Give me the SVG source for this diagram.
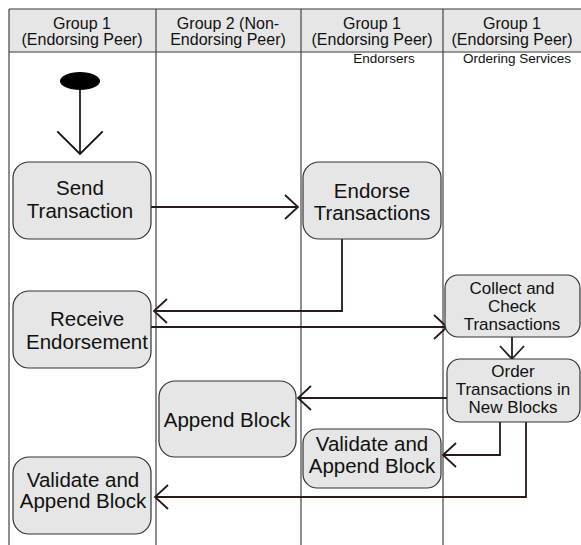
<svg xmlns="http://www.w3.org/2000/svg" width="581" height="545" viewBox="0 0 581 545">
<style>
  text { font-family: "Liberation Sans", Arial, sans-serif; fill: #111; text-anchor: middle; }
  .hdr { font-size: 16px; }
  .sub { font-size: 13.5px; }
  .big { font-size: 20.5px; }
  .med { font-size: 17px; }
  .node { fill: #e6e6e6; stroke: #333; stroke-width: 1.2; }
  .lane { stroke: #444; stroke-width: 1.2; fill: none; }
  .conn { stroke: #2a1a1a; stroke-width: 1.8; fill: none; }
</style>
<defs>
  <marker id="arr" markerUnits="userSpaceOnUse" markerWidth="30" markerHeight="30" viewBox="-16 -15 18 30" refX="0" refY="0" orient="auto">
    <path d="M-13,-12 L0,0 L-13,12" fill="none" stroke="#2a1a1a" stroke-width="1.8"/>
  </marker>
  <marker id="arrBig" markerUnits="userSpaceOnUse" markerWidth="30" markerHeight="50" viewBox="-22 -22 24 44" refX="0" refY="0" orient="auto">
    <path d="M-20,-20 L0,0 L-20,20" fill="none" stroke="#111" stroke-width="1.6"/>
  </marker>
</defs>

<g id="header">
  <rect x="9" y="9" width="572" height="43" fill="#e6e6e6"/>
  <line x1="9" y1="9" x2="581" y2="9" stroke="#777" stroke-width="1.5"/>
  <line x1="9" y1="52" x2="581" y2="52" stroke="#777" stroke-width="1.5"/>
  <text class="hdr" x="82" y="29">Group 1</text>
  <text class="hdr" x="82" y="45">(Endorsing Peer)</text>
  <text class="hdr" x="228" y="29">Group 2 (Non-</text>
  <text class="hdr" x="228" y="45">Endorsing Peer)</text>
  <text class="hdr" x="372" y="29">Group 1</text>
  <text class="hdr" x="372" y="45">(Endorsing Peer)</text>
  <text class="hdr" x="512" y="29">Group 1</text>
  <text class="hdr" x="512" y="45">(Endorsing Peer)</text>
  <text class="sub" x="384" y="63">Endorsers</text>
  <text class="sub" x="517" y="63">Ordering Services</text>
</g>

<g id="lanes">
  <line class="lane" x1="9" y1="9" x2="9" y2="545"/>
  <line class="lane" x1="156" y1="9" x2="156" y2="545"/>
  <line class="lane" x1="301" y1="9" x2="301" y2="545"/>
  <line class="lane" x1="443" y1="9" x2="443" y2="545"/>
</g>

<g id="connectors">
  <line class="conn" x1="80" y1="90" x2="80" y2="154" stroke="#111" stroke-width="1.6" marker-end="url(#arrBig)"/>
  <line class="conn" x1="151" y1="207" x2="298" y2="207" marker-end="url(#arr)"/>
  <polyline class="conn" points="342,239 342,311 154,311" marker-end="url(#arr)"/>
  <line class="conn" x1="151" y1="327" x2="447" y2="327" marker-end="url(#arr)"/>
  <line class="conn" x1="512" y1="337" x2="512" y2="359" marker-end="url(#arr)"/>
  <line class="conn" x1="447" y1="398" x2="298" y2="398" marker-end="url(#arr)"/>
  <polyline class="conn" points="500,422 500,455 443,455" marker-end="url(#arr)"/>
  <polyline class="conn" points="526,422 526,497 155,497" marker-end="url(#arr)"/>
</g>

<g id="start">
  <ellipse cx="80" cy="81" rx="20" ry="9" fill="#000"/>
</g>

<g id="send-transaction">
  <rect class="node" x="13" y="162" width="138" height="77" rx="16"/>
  <text class="big" x="80" y="195">Send</text>
  <text class="big" x="80" y="218">Transaction</text>
</g>

<g id="endorse-transactions">
  <rect class="node" x="303" y="162" width="138" height="77" rx="16"/>
  <text class="big" x="372" y="198">Endorse</text>
  <text class="big" x="372" y="220">Transactions</text>
</g>

<g id="receive-endorsement">
  <rect class="node" x="13" y="291" width="138" height="77" rx="16"/>
  <text class="big" x="87" y="326">Receive</text>
  <text class="big" x="87" y="349">Endorsement</text>
</g>

<g id="collect-check">
  <rect class="node" x="445" y="275" width="135" height="62" rx="13"/>
  <text class="med" x="512" y="294">Collect and</text>
  <text class="med" x="512" y="312">Check</text>
  <text class="med" x="512" y="330">Transactions</text>
</g>

<g id="order-transactions">
  <rect class="node" x="447" y="359" width="133" height="63" rx="13"/>
  <text class="med" x="513" y="377">Order</text>
  <text class="med" x="513" y="395">Transactions in</text>
  <text class="med" x="513" y="413">New Blocks</text>
</g>

<g id="append-block">
  <rect class="node" x="159" y="381" width="137" height="76" rx="16"/>
  <text class="big" x="227" y="427">Append Block</text>
</g>

<g id="validate-append-mid">
  <rect class="node" x="303" y="429" width="138" height="59" rx="14"/>
  <text class="big" x="372" y="451">Validate and</text>
  <text class="big" x="372" y="473">Append Block</text>
</g>

<g id="validate-append-left">
  <rect class="node" x="13" y="457" width="138" height="77" rx="16"/>
  <text class="big" x="83" y="487">Validate and</text>
  <text class="big" x="83" y="508">Append Block</text>
</g>
</svg>
